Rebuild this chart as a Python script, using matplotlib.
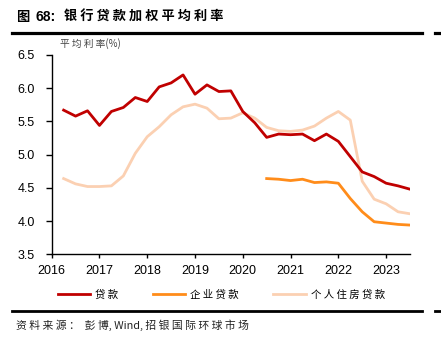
import matplotlib
matplotlib.use("Agg")
import matplotlib.pyplot as plt
from matplotlib.lines import Line2D

plt.rcParams["font.family"] = ["Liberation Sans", "Noto Sans CJK SC", "DejaVu Sans"]

CJK = ["Noto Sans CJK SC", "DejaVu Sans"]

# quarter-end dates (decimal year)
q_all = [2016 + 0.25 * i for i in range(1, 31)]

loan = [5.67, 5.58, 5.66, 5.44, 5.65, 5.71, 5.86, 5.80, 6.02, 6.08,
        6.20, 5.91, 6.05, 5.95, 5.96, 5.65, 5.48, 5.26, 5.31, 5.30,
        5.31, 5.21, 5.31, 5.20, 4.97, 4.74, 4.67, 4.57, 4.53, 4.48]

corp = [4.64, 4.63, 4.61, 4.63, 4.58, 4.59, 4.57, 4.34, 4.14, 3.99,
        3.97, 3.95, 3.94]
q_corp = [2020.5 + 0.25 * i for i in range(len(corp))]

mortgage = [4.64, 4.56, 4.52, 4.52, 4.53, 4.68, 5.02, 5.27, 5.42, 5.60,
            5.72, 5.76, 5.70, 5.54, 5.55, 5.63, 5.55, 5.41, 5.36, 5.35,
            5.37, 5.43, 5.55, 5.65, 5.52, 4.60, 4.33, 4.26, 4.14, 4.11]

labels = ["贷款", "企业贷款", "个人住房贷款"]
colors = ["#C00000", "#FF8C1A", "#FBD0B2"]
years = list(range(2016, 2024))
yticks = [3.5, 4.0, 4.5, 5.0, 5.5, 6.0, 6.5]


def spaced(s):
    return " ".join(s)


fig = plt.figure(figsize=(4.41, 3.53), dpi=100)
ax = fig.add_axes([0.1172, 0.2796, 0.8125, 0.5646])

ax.plot(q_all, mortgage, color=colors[2], lw=2.0, solid_joinstyle="round", zorder=2)
ax.plot(q_corp, corp, color=colors[1], lw=2.0, solid_joinstyle="round", zorder=3)
ax.plot(q_all, loan, color=colors[0], lw=2.0, solid_joinstyle="round", zorder=4)

ax.set_xlim(2016, 2023.5)
ax.set_ylim(3.5, 6.5)
ax.set_xticks(years)
ax.set_xticklabels([str(y) for y in years])
ax.set_yticks(yticks)
ax.set_yticklabels([f"{v:.1f}" for v in yticks])
for s in ["top", "right"]:
    ax.spines[s].set_visible(False)
for s in ["left", "bottom"]:
    ax.spines[s].set_color("black")
    ax.spines[s].set_linewidth(1.0)
ax.tick_params(axis="y", direction="out", length=4, width=1, pad=8,
               labelsize=9, colors="black")
ax.tick_params(axis="x", direction="out", length=3, width=1, pad=5,
               labelsize=9, colors="black")

fig.text(60 / 441, 1 - 44 / 353, spaced("平均利率") + "(%)", family=CJK, fontsize=7,
         color="#444444", va="center", ha="left")

# title
fig.text(16 / 441, 1 - 17 / 353, "图", family=CJK, fontsize=9.5, fontweight="bold",
         va="center", ha="left")
fig.text(35 / 441, 1 - 17 / 353, "68:", family=["Liberation Sans"], fontsize=10,
         fontweight="bold", va="center", ha="left")
fig.text(64 / 441, 1 - 17 / 353, spaced("银行贷款加权平均利率"), family=CJK,
         fontsize=9.5, fontweight="bold", va="center", ha="left")

fig.add_artist(Line2D([12 / 441, 422 / 441], [1 - 33 / 353, 1 - 33 / 353],
                      color="black", lw=2.3, transform=fig.transFigure))
fig.add_artist(Line2D([435 / 441, 1.0], [1 - 33 / 353, 1 - 33 / 353],
                      color="black", lw=2.3, transform=fig.transFigure))
fig.add_artist(Line2D([12 / 441, 422 / 441], [1 - 311 / 353, 1 - 311 / 353],
                      color="black", lw=2.0, transform=fig.transFigure))
fig.add_artist(Line2D([435 / 441, 1.0], [1 - 311 / 353, 1 - 311 / 353],
                      color="black", lw=2.0, transform=fig.transFigure))

# legend
handles = [Line2D([], [], color=c, lw=2.0) for c in colors]
fig.legend(handles, [spaced(l) for l in labels], loc="center",
           bbox_to_anchor=(0.502, 1 - 295 / 353), ncol=3, frameon=False,
           prop={"family": CJK, "size": 7.5}, handlelength=3.1,
           handletextpad=0.5, columnspacing=3.3)

# source
fig.text(16 / 441, 1 - 325 / 353, spaced("资料来源：") + "  " + spaced("彭博") + ", Wind, "
         + spaced("招银国际环球市场"), family=CJK, fontsize=7.8, color="#222222",
         va="center", ha="left")

fig.savefig("out.png", dpi=100)
